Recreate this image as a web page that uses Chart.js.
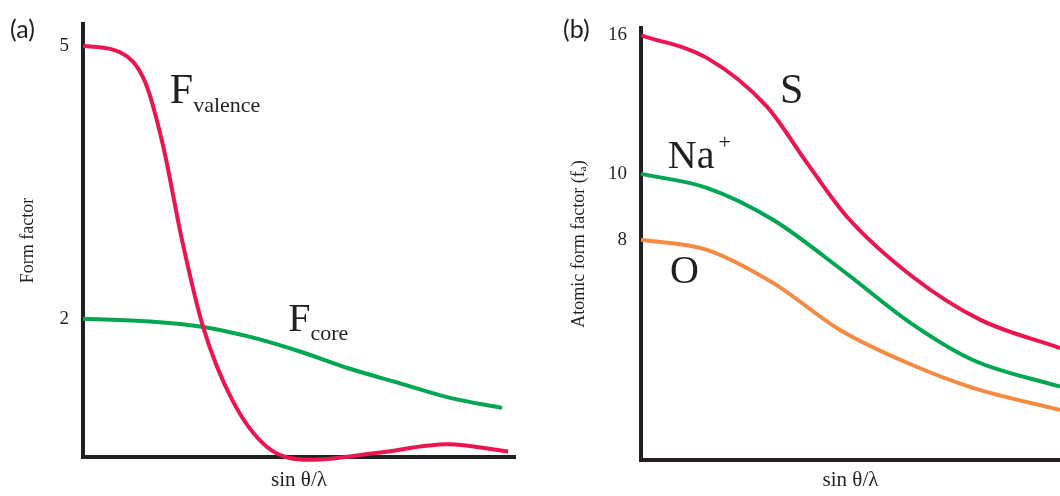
<!DOCTYPE html>
<html>
<head>
<meta charset="utf-8">
<script src="https://cdn.jsdelivr.net/npm/chart.js@4.4.1/dist/chart.umd.min.js"></script>
<style>
  html, body { margin: 0; padding: 0; background: #fff; }
  #wrap { position: relative; width: 1060px; height: 496px; overflow: hidden; }
  canvas { position: absolute; top: 0; }
  #chartA { left: 0; }
  #chartB { left: 530px; }
  .panel { position: absolute; top: 16px; font: 400 25px Lato, "DejaVu Sans", sans-serif; color: #231f20; line-height: 1; }
</style>
</head>
<body>
<div id="wrap">
  <canvas id="chartA" width="530" height="496"></canvas>
  <canvas id="chartB" width="530" height="496"></canvas>
  <div class="panel" style="left:10px">(a)</div>
  <div class="panel" style="left:563px">(b)</div>
</div>
<script>
// (a) valence and core contributions to the form factor
const valenceX = [0, 0.86, 1.44, 1.85, 2.29, 2.78, 3.45, 4.26, 5.25, 6.88, 8.43, 9.84];
const valenceY = [5.0, 4.93, 4.60, 3.91, 2.87, 1.91, 1.11, 0.59, 0.45, 0.53, 0.62, 0.54];
const coreX = [0, 1.55, 2.78, 3.87, 5.02, 6.18, 7.34, 8.50, 9.70];
const coreY = [2.0, 1.97, 1.91, 1.80, 1.64, 1.45, 1.29, 1.13, 1.02];
const ticksA = [2, 5];

// (b) atomic form factors of S, Na+ and O
const sX = [0, 1.57, 3.01, 3.96, 4.92, 6.49, 8.09, 10];
const sY = [16, 14.82, 12.55, 10.38, 8.64, 7.05, 6.10, 5.54];
const naX = [0, 1.57, 3.15, 4.82, 6.42, 7.92, 10];
const naY = [10, 9.54, 8.56, 7.20, 6.04, 5.32, 4.86];
const oX = [0, 1.57, 3.15, 4.75, 6.35, 7.92, 10];
const oY = [8, 7.73, 6.91, 5.89, 5.27, 4.84, 4.49];
const ticksB = [8, 10, 16];

const RED = '#ec1550';
const GREEN = '#00a651';
const ORANGE = '#f58a43';
const INK = '#231f20';
const SERIF = '"Liberation Serif", "Times New Roman", "DejaVu Serif", serif';

const pts = (xs, ys) => xs.map((x, i) => ({ x, y: ys[i] }));

const line = (data, color) => ({
    data,
    borderColor: color,
    borderWidth: 4,
    pointRadius: 0,
    cubicInterpolationMode: 'monotone',
    clip: false,
});

// curve names (main letter + optional sub/superscript), anchored in data units
const termLabels = {
    id: 'termLabels',
    afterDraw(chart, args, opts) {
        const { ctx, scales: { x, y } } = chart;
        ctx.save();
        ctx.fillStyle = INK;
        ctx.textBaseline = 'alphabetic';
        ctx.textAlign = 'left';
        (opts.items || []).forEach(it => {
            const px = x.getPixelForValue(it.at[0]);
            const py = y.getPixelForValue(it.at[1]);
            ctx.font = `${it.size}px ${SERIF}`;
            ctx.fillText(it.text, px, py);
            const w = ctx.measureText(it.text).width;
            if (it.sub) {
                ctx.font = `22px ${SERIF}`;
                ctx.fillText(it.sub, px + w, py + 9);
            }
            if (it.sup) {
                ctx.font = `22px ${SERIF}`;
                ctx.fillText(it.sup, px + w + 4, py - 19);
            }
        });
        ctx.restore();
    }
};

function axes(yOpts, yWidth, xHeight, yTitle, yTitlePad) {
    return {
        x: {
            type: 'linear', min: 0, max: 10,
            grid: { display: false },
            border: { display: true, color: INK, width: 4 },
            ticks: { display: false },
            title: { display: true, text: 'sin θ/λ', color: INK, font: { family: SERIF, size: 21 }, padding: { top: 0, bottom: 3 } },
            afterFit: s => { s.height = xHeight; },
        },
        y: Object.assign({
            grid: { display: false },
            border: { display: true, color: INK, width: 4 },
            ticks: { color: INK, font: { family: SERIF, size: 19 }, padding: 6, callback: v => String(v) },
            title: { display: true, text: yTitle, color: INK, font: { family: SERIF, size: 18 }, padding: { top: yTitlePad, bottom: 0 } },
            afterFit: s => { s.width = yWidth; },
        }, yOpts),
    };
}

const common = {
    responsive: false,
    animation: false,
    events: [],
};

new Chart(document.getElementById('chartA'), {
    type: 'line',
    data: { datasets: [line(pts(valenceX, valenceY), RED), line(pts(coreX, coreY), GREEN)] },
    options: Object.assign({}, common, {
        layout: { padding: { left: 0, top: 24, right: 15, bottom: 0 } },
        scales: axes({
            type: 'linear', min: 0.48, max: 5.24,
            afterBuildTicks: s => { s.ticks = ticksA.map(value => ({ value })); },
        }, 83, 39, 'Form factor', 17),
        plugins: {
            legend: { display: false },
            tooltip: { enabled: false },
            termLabels: { items: [
                { text: 'F', sub: 'valence', at: [2.01, 4.37], size: 42 },
                { text: 'F', sub: 'core', at: [4.75, 1.86], size: 40 },
            ] },
        },
    }),
    plugins: [termLabels],
});

new Chart(document.getElementById('chartB'), {
    type: 'line',
    data: { datasets: [line(pts(sX, sY), RED), line(pts(naX, naY), GREEN), line(pts(oX, oY), ORANGE)] },
    options: Object.assign({}, common, {
        layout: { padding: { left: 0, top: 28, right: 0, bottom: 0 } },
        scales: axes({
            type: 'logarithmic', min: 3.79, max: 16.4,
            afterBuildTicks: s => { s.ticks = ticksB.map(value => ({ value })); },
        }, 111, 36, 'Atomic form factor (fₐ)', 38),
        plugins: {
            legend: { display: false },
            tooltip: { enabled: false },
            termLabels: { items: [
                { text: 'S', at: [3.32, 12.72], size: 42 },
                { text: 'Na', sup: '+', at: [0.64, 10.21], size: 40 },
                { text: 'O', at: [0.69, 6.91], size: 40 },
            ] },
        },
    }),
    plugins: [termLabels],
});
</script>
</body>
</html>
